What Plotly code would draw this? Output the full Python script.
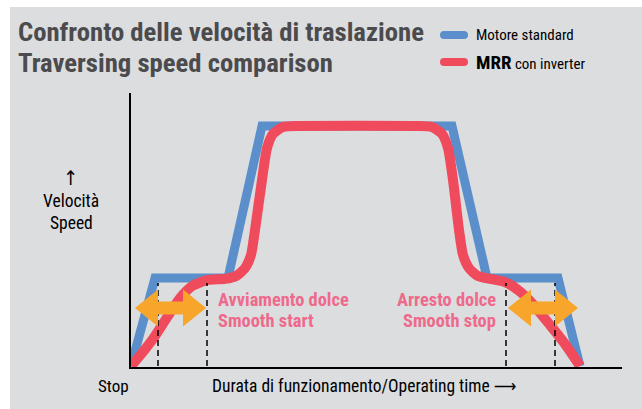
import plotly.graph_objects as go

# ---------------- data (time units, speed in % of top speed) ----------------
std_time = [0.0, 2.4, 9.7, 13.1, 32.1, 35.6, 42.7, 44.9]
std_speed = [0.0, 36.7, 36.7, 100.0, 100.0, 36.7, 36.7, 0.0]

mrr_time = [0.0, 1.1, 2.2, 3.5, 4.9, 6.1, 7.6, 9.4, 10.5, 11.4, 12.0, 12.4, 13.1, 13.6,
            14.2, 15.2, 16.9, 28.4, 30.1, 31.1, 31.7, 32.2, 32.8, 33.2, 33.8, 34.7,
            35.9, 37.4, 38.7, 39.9, 41.9, 43.4, 44.9]
mrr_speed = [0.0, 5.4, 11.3, 19.6, 28.3, 33.3, 35.8, 36.3, 37.5, 40.8, 46.3, 56.7, 77.5, 90.8,
             96.7, 99.6, 100.0, 100.0, 99.6, 96.7, 90.8, 77.5, 56.7, 46.3, 40.8, 37.5,
             36.3, 35.0, 31.7, 27.1, 17.1, 9.2, 0.0]

phase_marks = [2.7, 7.6, 37.5, 42.4]   # dashed guide lines (time)
phase_mark_top = 34.6
arrow_spans = [(0.4, 7.5), (37.7, 44.7)]   # orange double arrows (time start, end)
arrow_level = 24.2

X_RANGE = [0, 49.1]
Y_RANGE = [-0.4, 113.75]

W, H = 642, 409
L, R, T, B = 131, 20, 93, 42
PW, PH = W - L - R, H - T - B

BLUE = "#5a8fcc"
RED = "#f04b5c"
ORANGE = "#f8a52b"
PINK = "#ee6a8c"
GRAY = "#dcdddf"
TITLE_C = "#4b4b4d"
FONT = "Liberation Sans Narrow, Roboto Condensed, DejaVu Sans Condensed, Liberation Sans, sans-serif"


def px(x):
    return (x - L) / PW


def py(y):
    return (H - B - y) / PH


fig = go.Figure()
fig.add_trace(go.Scatter(x=std_time, y=std_speed, mode="lines", name="Motore standard",
                         line=dict(color=BLUE, width=9), showlegend=False, hoverinfo="skip"))
fig.add_trace(go.Scatter(x=mrr_time, y=mrr_speed, mode="lines", name="MRR con inverter",
                         line=dict(color=RED, width=10, shape="spline", smoothing=0.6),
                         showlegend=False, hoverinfo="skip"))

shapes = []
# white margins of the picture
shapes.append(dict(type="rect", xref="paper", yref="paper", x0=px(-5), x1=px(10), y0=py(420), y1=py(-5),
                   fillcolor="white", line=dict(width=0), layer="below"))
shapes.append(dict(type="rect", xref="paper", yref="paper", x0=px(-5), x1=px(650), y0=py(7), y1=py(-5),
                   fillcolor="white", line=dict(width=0), layer="below"))

for t in phase_marks:
    shapes.append(dict(type="line", xref="x", yref="y", x0=t, x1=t, y0=0, y1=phase_mark_top,
                       line=dict(color="black", width=1.5, dash="6px,4px")))

# arrow geometry in pixels -> data units
ux = PW / (X_RANGE[1] - X_RANGE[0])
uy = PH / (Y_RANGE[1] - Y_RANGE[0])
hl, hh, sh = 23 / ux, 18.5 / uy, 6.5 / uy
for a, b in arrow_spans:
    y = arrow_level
    pts = [(a, y), (a + hl, y + hh), (a + hl, y + sh), (b - hl, y + sh), (b - hl, y + hh), (b, y),
           (b - hl, y - hh), (b - hl, y - sh), (a + hl, y - sh), (a + hl, y - hh)]
    path = "M " + " L ".join(f"{p[0]:.3f},{p[1]:.3f}" for p in pts) + " Z"
    shapes.append(dict(type="path", xref="x", yref="y", path=path, fillcolor=ORANGE, line=dict(width=0)))

# legend swatches
for yy, col in [(35, BLUE), (62, RED)]:
    shapes.append(dict(type="line", xref="paper", yref="paper", x0=px(444), x1=px(464), y0=py(yy), y1=py(yy),
                       line=dict(color=col, width=8)))
    for cx in (444, 464):
        shapes.append(dict(type="circle", xref="paper", yref="paper", x0=px(cx - 4), x1=px(cx + 4),
                           y0=py(yy + 4), y1=py(yy - 4), fillcolor=col, line=dict(width=0)))

ann = []


def text(x, y, s, size, color="black", xanchor="left", bold=False, align="left"):
    ann.append(dict(x=px(x), y=py(y), xref="paper", yref="paper", text=f"<b>{s}</b>" if bold else s,
                    showarrow=False, xanchor=xanchor, yanchor="middle", align=align,
                    font=dict(family=FONT, size=size, color=color)))


text(16, 32, "Confronto delle velocità di traslazione", 26.7, TITLE_C, bold=True)
text(16, 63, "Traversing speed comparison", 26.7, TITLE_C, bold=True)
text(474, 35, "Motore standard", 15)
text(474, 62, "<b><span style='font-size:19px'>MRR</span></b> con inverter", 15)
text(70, 178, "↑", 20, xanchor="center")
text(71, 201, "Velocità", 17.5, xanchor="center")
text(71, 223, "Speed", 17.5, xanchor="center")
text(96, 386, "Stop", 17)
text(210, 386, "Durata di funzionamento/Operating time ⟶", 17.5)
text(216, 299, "Avviamento dolce", 18.4, PINK, bold=True)
text(216, 320, "Smooth start", 18.4, PINK, bold=True)
text(498, 299, "Arresto dolce", 18.4, PINK, xanchor="right", bold=True)
text(498, 320, "Smooth stop", 18.4, PINK, xanchor="right", bold=True)

fig.update_layout(
    width=W, height=H, margin=dict(l=L, r=R, t=T, b=B, pad=0),
    paper_bgcolor=GRAY, plot_bgcolor=GRAY,
    xaxis=dict(range=X_RANGE, showgrid=False, zeroline=False, showticklabels=False, ticks="",
               showline=True, linecolor="black", linewidth=1.5, fixedrange=True),
    yaxis=dict(range=Y_RANGE, showgrid=False, zeroline=False, showticklabels=False, ticks="",
               showline=True, linecolor="black", linewidth=1.5, fixedrange=True),
    shapes=shapes, annotations=ann, hovermode=False, showlegend=False,
)

fig.write_html("out.html", config={"displayModeBar": False},
               post_script="document.body.style.margin='0';document.body.style.overflow='hidden';")
